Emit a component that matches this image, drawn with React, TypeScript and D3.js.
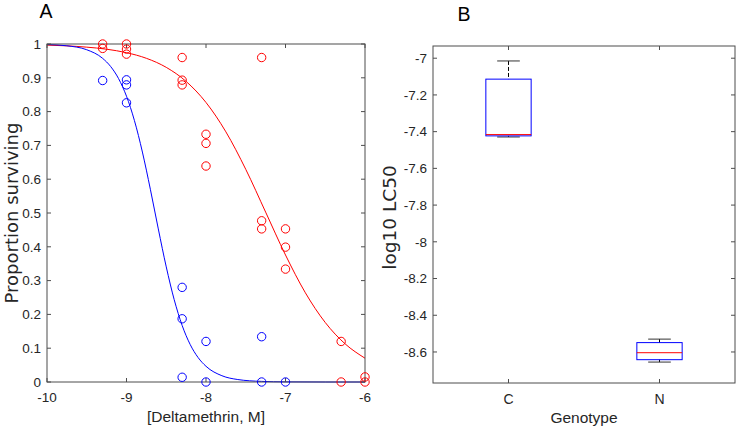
import React from "react";
import * as d3 from "d3";

// ---- panel A: survival data (log10 dose, proportion surviving)
const redDose = [-9.3, -9.3, -9.0, -9.0, -9.0, -8.3, -8.3, -8.3, -8.0, -8.0, -8.0, -7.3, -7.3, -7.3, -7.0, -7.0, -7.0, -6.3, -6.3, -6.0, -6.0];
const redSurv = [1.0, 0.987, 1.0, 0.985, 0.97, 0.96, 0.893, 0.879, 0.733, 0.706, 0.639, 0.96, 0.477, 0.453, 0.453, 0.399, 0.334, 0.12, 0.0, 0.015, 0.0];
const blueDose = [-9.3, -9.0, -9.0, -9.0, -8.3, -8.3, -8.3, -8.0, -8.0, -7.3, -7.3, -7.0];
const blueSurv = [0.892, 0.894, 0.879, 0.826, 0.28, 0.187, 0.014, 0.12, 0.0, 0.134, 0.0, 0.0];

// fitted curves
const redCurveX = [-10, -9.75, -9.5, -9.25, -9, -8.75, -8.5, -8.25, -8, -7.75, -7.5, -7.25, -7, -6.75, -6.5, -6.25, -6];
const redCurveY = [0.9967, 0.9945, 0.9907, 0.9846, 0.9743, 0.9577, 0.9309, 0.8892, 0.827, 0.7401, 0.6292, 0.5026, 0.3757, 0.2639, 0.176, 0.1128, 0.0704];
const blueCurveX = [-10, -9.75, -9.5, -9.3, -9.2, -9.1, -9, -8.9, -8.8, -8.7, -8.6, -8.5, -8.4, -8.3, -8.2, -8.1, -8, -7.8, -7.6, -7.3, -7, -6.5, -6];
const blueCurveY = [0.9984, 0.9947, 0.983, 0.9575, 0.9336, 0.8977, 0.8455, 0.7733, 0.6803, 0.5703, 0.4529, 0.3406, 0.2436, 0.1673, 0.1114, 0.0725, 0.0465, 0.0186, 0.0073, 0.0018, 0.0004, 0, 0];

const doseTicks = [-10, -9, -8, -7, -6];
const survTicks = [0, 0.1, 0.2, 0.3, 0.4, 0.5, 0.6, 0.7, 0.8, 0.9, 1];

// ---- panel B: box plot of log10 LC50
const genotypes = ["C", "N"];
const whiskerHigh = [-7.015, -8.53];
const q3 = [-7.114, -8.549];
const medians = [-7.416, -8.604];
const q1 = [-7.423, -8.642];
const whiskerLow = [-7.429, -8.655];
const lcTicks = [-7, -7.2, -7.4, -7.6, -7.8, -8, -8.2, -8.4, -8.6];

const AX = "#4d4d4d";
const TICK = "Liberation Sans, Arial, sans-serif";
const TITLE = "DejaVu Sans, sans-serif";

export default function App() {
  // panel A scales
  const xA = d3.scaleLinear().domain([-10, -6]).range([47, 365]);
  const yA = d3.scaleLinear().domain([0, 1]).range([382, 44]);
  // panel B scales
  const xB = d3.scaleLinear().domain([0.5, 2.5]).range([433, 735]);
  const yB = d3.scaleLinear().domain([-8.769, -6.9335]).range([383, 46]);
  const tl = 4;

  const line = (xs: number[], ys: number[]) =>
    d3.line<number>()
      .x((_, i) => xA(xs[i]))
      .y((_, i) => yA(ys[i]))
      .curve(d3.curveMonotoneX)(xs) || "";

  const [aL, aR] = xA.range();
  const [aB, aT] = yA.range();
  const [bL, bR] = xB.range();
  const [bB, bT] = yB.range();
  const boxW = 0.3;

  return (
    <svg width={736} height={426} style={{ position: "absolute", left: 0, top: 0, background: "#fff" }}>
      {/* ---------- panel A ---------- */}
      <text x={46} y={18} fontFamily={TICK} fontSize={19.5} textAnchor="middle">A</text>
      <path d={line(redCurveX, redCurveY)} fill="none" stroke="#f00" strokeWidth={1} />
      <path d={line(blueCurveX, blueCurveY)} fill="none" stroke="#00f" strokeWidth={1} />
      <rect x={aL} y={aT} width={aR - aL} height={aB - aT} fill="none" stroke={AX} strokeWidth={1} />
      {doseTicks.map(t => (
        <g key={"xa" + t}>
          <line x1={xA(t)} x2={xA(t)} y1={aB} y2={aB - tl} stroke={AX} />
          <line x1={xA(t)} x2={xA(t)} y1={aT} y2={aT + tl} stroke={AX} />
          <text x={xA(t)} y={401.5} fontFamily={TICK} fontSize={13.5} textAnchor="middle" fill="#262626">{String(t)}</text>
        </g>
      ))}
      {survTicks.map(t => (
        <g key={"ya" + t}>
          <line x1={aL} x2={aL + tl} y1={yA(t)} y2={yA(t)} stroke={AX} />
          <line x1={aR} x2={aR - tl} y1={yA(t)} y2={yA(t)} stroke={AX} />
          <text x={41} y={yA(t)} dy="0.35em" fontFamily={TICK} fontSize={13.5} textAnchor="end" fill="#262626">{String(t)}</text>
        </g>
      ))}
      {redDose.map((d, i) => (
        <circle key={"r" + i} cx={xA(d)} cy={yA(redSurv[i])} r={4.2} fill="none" stroke="#f00" strokeWidth={1} />
      ))}
      {blueDose.map((d, i) => (
        <circle key={"b" + i} cx={xA(d)} cy={yA(blueSurv[i])} r={4.2} fill="none" stroke="#00f" strokeWidth={1} />
      ))}
      <text x={(aL + aR) / 2} y={422} fontFamily={TICK} fontSize={15.5} textAnchor="middle" fill="#262626">[Deltamethrin, M]</text>
      <text transform={`translate(11,${(aT + aB) / 2}) rotate(-90)`} fontFamily={TITLE} fontSize={18} textAnchor="middle" dominantBaseline="central" fill="#262626">Proportion surviving</text>

      {/* ---------- panel B ---------- */}
      <text x={464} y={21} fontFamily={TICK} fontSize={19.5} textAnchor="middle">B</text>
      <rect x={bL} y={bT} width={bR - bL} height={bB - bT} fill="none" stroke={AX} strokeWidth={1} />
      {genotypes.map((g, i) => (
        <g key={"xb" + g}>
          <line x1={xB(i + 1)} x2={xB(i + 1)} y1={bB} y2={bB - tl} stroke={AX} />
          <line x1={xB(i + 1)} x2={xB(i + 1)} y1={bT} y2={bT + tl} stroke={AX} />
          <text x={xB(i + 1)} y={404} fontFamily={TICK} fontSize={14} textAnchor="middle" fill="#262626">{g}</text>
        </g>
      ))}
      {lcTicks.map(t => (
        <g key={"yb" + t}>
          <line x1={bL} x2={bL + tl} y1={yB(t)} y2={yB(t)} stroke={AX} />
          <line x1={bR} x2={bR - tl} y1={yB(t)} y2={yB(t)} stroke={AX} />
          <text x={427} y={yB(t)} dy="0.35em" fontFamily={TICK} fontSize={13.5} textAnchor="end" fill="#262626">{String(t)}</text>
        </g>
      ))}
      {genotypes.map((g, i) => {
        const cx = xB(i + 1);
        const x0 = xB(i + 1 - boxW / 2);
        const x1 = xB(i + 1 + boxW / 2);
        const c0 = xB(i + 1 - boxW / 4);
        const c1 = xB(i + 1 + boxW / 4);
        return (
          <g key={"box" + g}>
            <line x1={cx} x2={cx} y1={yB(whiskerHigh[i])} y2={yB(q3[i])} stroke="#000" strokeDasharray="4,2" />
            <line x1={cx} x2={cx} y1={yB(q1[i])} y2={yB(whiskerLow[i])} stroke="#000" strokeDasharray="4,2" />
            <line x1={c0} x2={c1} y1={yB(whiskerHigh[i])} y2={yB(whiskerHigh[i])} stroke="#333" />
            <line x1={c0} x2={c1} y1={yB(whiskerLow[i])} y2={yB(whiskerLow[i])} stroke="#333" />
            <rect x={x0} y={yB(q3[i])} width={x1 - x0} height={yB(q1[i]) - yB(q3[i])} fill="none" stroke="#00f" strokeWidth={1} />
            <line x1={x0} x2={x1} y1={yB(medians[i])} y2={yB(medians[i])} stroke="#f00" strokeWidth={1} />
          </g>
        );
      })}
      <text x={(bL + bR) / 2} y={423} fontFamily={TICK} fontSize={15.5} textAnchor="middle" fill="#262626">Genotype</text>
      <text transform={`translate(389,${(bT + bB) / 2 + 3}) rotate(-90)`} fontFamily={TITLE} fontSize={18.5} textAnchor="middle" dominantBaseline="central" fill="#262626">log10 LC50</text>
    </svg>
  );
}
